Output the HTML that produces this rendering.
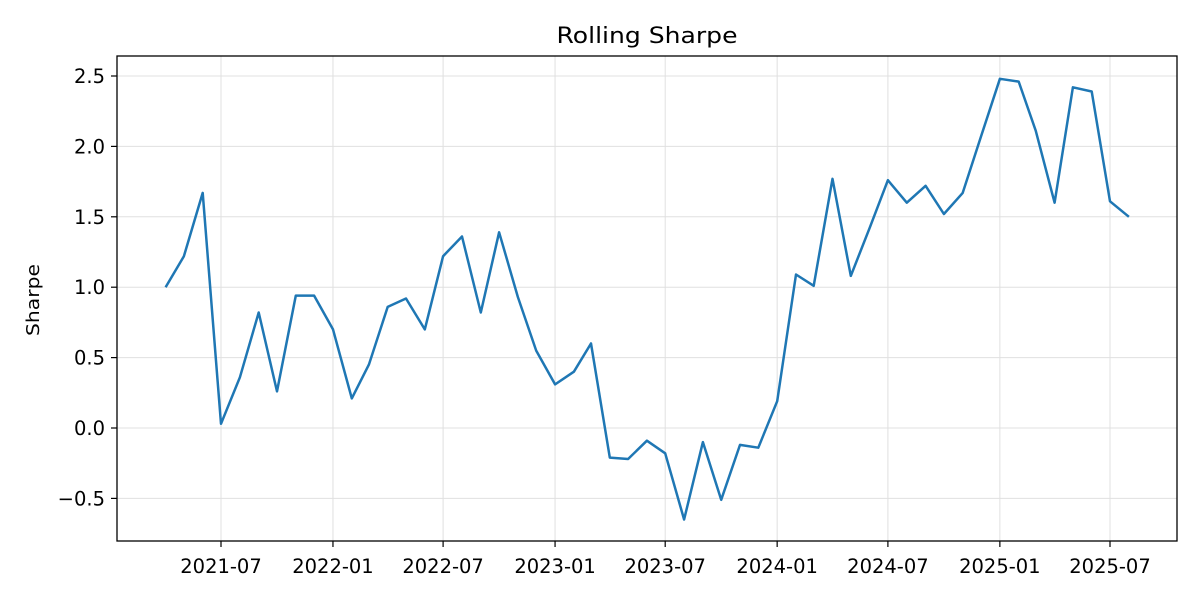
<!DOCTYPE html>
<html><head><meta charset="utf-8"><style>
body{margin:0;background:#fff;font-family:"Liberation Sans","DejaVu Sans",sans-serif}
svg text{font-family:"DejaVu Sans","Liberation Sans",sans-serif;fill:#000}
</style></head><body>
<svg id="chart" width="1200" height="600">
<text x="647" y="43" font-size="22" text-anchor="middle" textLength="181" lengthAdjust="spacingAndGlyphs">Rolling Sharpe</text>
<text transform="translate(39,300) rotate(-90)" font-size="18" text-anchor="middle" textLength="72" lengthAdjust="spacingAndGlyphs">Sharpe</text>
<g id="grid"></g><g id="axes"></g>
<path id="line" fill="none" stroke="#1f77b4" stroke-width="2.5" stroke-linejoin="round"/>
<rect x="117" y="56" width="1060" height="485" fill="none" stroke="#000" stroke-width="1.3"/>
</svg>
<script>
const startMonth = "2021-04";
const sharpeValues = [1.00,1.22,1.67,0.03,0.36,0.82,0.26,0.94,0.94,0.70,0.21,0.45,0.86,0.92,0.70,1.22,1.36,0.82,1.39,0.93,0.55,0.31,0.40,0.60,-0.21,-0.22,-0.09,-0.18,-0.65,-0.10,-0.51,-0.12,-0.14,0.19,1.09,1.01,1.77,1.08,1.42,1.76,1.60,1.72,1.52,1.67,2.07,2.48,2.46,2.11,1.60,2.42,2.39,1.61,1.50];
const yTicks = [-0.5,0,0.5,1.0,1.5,2.0,2.5];
const yTickLabels = ["\u22120.5","0.0","0.5","1.0","1.5","2.0","2.5"];
const xTicks = ["2021-07","2022-01","2022-07","2023-01","2023-07","2024-01","2024-07","2025-01","2025-07"];

const ns="http://www.w3.org/2000/svg";
const day=s=>Date.UTC(+s.slice(0,4),+s.slice(5,7)-1,1)/864e5;
const d0=day("2021-07"), d1=day("2025-07");
const X=d=>221+(d-d0)*(1110-221)/(d1-d0);
const Y=v=>428-v*140.8;
const grid=document.getElementById('grid'), axes=document.getElementById('axes');
function mk(tag,attrs,parent){const e=document.createElementNS(ns,tag);for(const k in attrs)e.setAttribute(k,attrs[k]);parent.appendChild(e);return e;}
yTicks.forEach((v,i)=>{
  const l=mk('line',{x1:117,x2:1177,y1:Y(v),y2:Y(v),stroke:'#e0e0e0','stroke-width':1},grid);
  
  
  mk('line',{x1:111,x2:117,y1:Y(v),y2:Y(v),stroke:'#000','stroke-width':1.2},axes);
  const t=mk('text',{x:105,y:Y(v)+7,'font-size':19.5,'text-anchor':'end'},axes);
  t.textContent=yTickLabels[i];
  
  
});
xTicks.forEach(s=>{
  const x=X(day(s));
  const l=mk('line',{x1:x,x2:x,y1:56,y2:541,stroke:'#e0e0e0','stroke-width':1},grid);
  
  
  mk('line',{x1:x,x2:x,y1:541,y2:547,stroke:'#000','stroke-width':1.2},axes);
  const t=mk('text',{x:x,y:573,'font-size':19.5,'text-anchor':'middle'},axes);
  t.textContent=s;
  
  
});
const sy=+startMonth.slice(0,4), sm=+startMonth.slice(5,7)-1;
const pts=sharpeValues.map((v,i)=>{const d=Date.UTC(sy,sm+i,1)/864e5;return X(d).toFixed(1)+','+Y(v).toFixed(1);});
document.getElementById('line').setAttribute('d','M'+pts.join('L'));
</script>
</body></html>
